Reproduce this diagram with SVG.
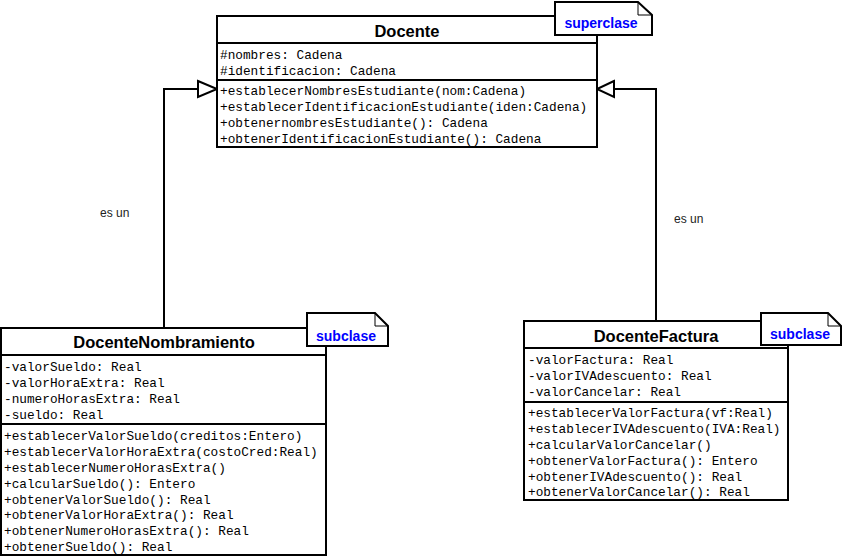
<svg xmlns="http://www.w3.org/2000/svg" width="844" height="558" viewBox="0 0 844 558">
<style>
.box{fill:#fff;stroke:#000;stroke-width:2}
.sep{stroke:#000;stroke-width:2}
.note{fill:#fff;stroke:#000;stroke-width:2}
.fold{fill:none;stroke:#000;stroke-width:1}
.title{font-family:"Liberation Sans",Arial,sans-serif;font-weight:bold;font-size:16.5px;fill:#000;text-anchor:middle}
.mono{font-family:"Liberation Mono","Courier New",monospace;font-size:12.75px;fill:#000}
.ntext{font-family:"Liberation Sans",Arial,sans-serif;font-weight:bold;font-size:14px;fill:#0000ff;text-anchor:middle}
.lbl{font-family:"Liberation Sans",Arial,sans-serif;font-size:12px;fill:#222}
.conn{fill:none;stroke:#000;stroke-width:2}
.head{fill:#fff;stroke:#000;stroke-width:2;stroke-linejoin:miter}
</style>
<rect width="844" height="558" fill="#fff"/>
<g id="connectors">
<polyline class="conn" points="164,328 164,89 198,89"/>
<polygon class="head" points="198,81 217,89 198,97"/>
<polyline class="conn" points="656,321 656,89 614,89"/>
<polygon class="head" points="614,81 597,89 614,97"/>
<text class="lbl" x="100" y="217">es un</text>
<text class="lbl" x="674" y="223">es un</text>
</g>
<g id="Docente">
<rect class="box" x="217" y="16" width="380" height="131"/>
<line class="sep" x1="217" y1="43" x2="597" y2="43"/>
<line class="sep" x1="217" y1="80" x2="597" y2="80"/>
<text class="title" x="407" y="37">Docente</text>
<text class="mono" x="220" y="59">#nombres: Cadena</text>
<text class="mono" x="220" y="75">#identificacion: Cadena</text>
<text class="mono" x="220" y="95">+establecerNombresEstudiante(nom:Cadena)</text>
<text class="mono" x="220" y="111">+establecerIdentificacionEstudiante(iden:Cadena)</text>
<text class="mono" x="220" y="127">+obtenernombresEstudiante(): Cadena</text>
<text class="mono" x="220" y="143">+obtenerIdentificacionEstudiante(): Cadena</text>
</g>
<g id="note-superclase">
<path class="note" d="M555,2 H638 L652,15 V35 H555 Z"/>
<path class="fold" d="M638,2 V15 H652"/>
<text class="ntext" x="601" y="28">superclase</text>
</g>
<g id="DocenteNombramiento">
<rect class="box" x="1" y="328" width="325" height="227"/>
<line class="sep" x1="1" y1="355" x2="326" y2="355"/>
<line class="sep" x1="1" y1="424" x2="326" y2="424"/>
<text class="title" x="164" y="348">DocenteNombramiento</text>
<text class="mono" x="4" y="371">-valorSueldo: Real</text>
<text class="mono" x="4" y="387">-valorHoraExtra: Real</text>
<text class="mono" x="4" y="403">-numeroHorasExtra: Real</text>
<text class="mono" x="4" y="419">-sueldo: Real</text>
<text class="mono" x="4" y="440">+establecerValorSueldo(creditos:Entero)</text>
<text class="mono" x="4" y="456">+establecerValorHoraExtra(costoCred:Real)</text>
<text class="mono" x="4" y="471.5">+establecerNumeroHorasExtra()</text>
<text class="mono" x="4" y="487.5">+calcularSueldo(): Entero</text>
<text class="mono" x="4" y="503.5">+obtenerValorSueldo(): Real</text>
<text class="mono" x="4" y="519">+obtenerValorHoraExtra(): Real</text>
<text class="mono" x="4" y="535">+obtenerNumeroHorasExtra(): Real</text>
<text class="mono" x="4" y="551">+obtenerSueldo(): Real</text>
</g>
<g id="note-subclase-1">
<path class="note" d="M307,313 H375 L388,326 V346 H307 Z"/>
<path class="fold" d="M375,313 V326 H388"/>
<text class="ntext" x="346" y="341">subclase</text>
</g>
<g id="DocenteFactura">
<rect class="box" x="524" y="321" width="264" height="179"/>
<line class="sep" x1="524" y1="348" x2="788" y2="348"/>
<line class="sep" x1="524" y1="402" x2="788" y2="402"/>
<text class="title" x="656" y="342">DocenteFactura</text>
<text class="mono" x="528" y="364">-valorFactura: Real</text>
<text class="mono" x="528" y="380">-valorIVAdescuento: Real</text>
<text class="mono" x="528" y="396">-valorCancelar: Real</text>
<text class="mono" x="528" y="417">+establecerValorFactura(vf:Real)</text>
<text class="mono" x="528" y="433">+establecerIVAdescuento(IVA:Real)</text>
<text class="mono" x="528" y="448.5">+calcularValorCancelar()</text>
<text class="mono" x="528" y="464.5">+obtenerValorFactura(): Entero</text>
<text class="mono" x="528" y="480.5">+obtenerIVAdescuento(): Real</text>
<text class="mono" x="528" y="496">+obtenerValorCancelar(): Real</text>
</g>
<g id="note-subclase-2">
<path class="note" d="M761,313 H828 L841,326 V345 H761 Z"/>
<path class="fold" d="M828,313 V326 H841"/>
<text class="ntext" x="800" y="339">subclase</text>
</g>
</svg>
